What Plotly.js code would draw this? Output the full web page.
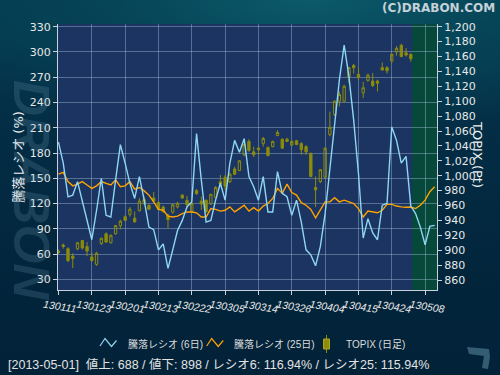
<!DOCTYPE html>
<html><head><meta charset="utf-8">
<script src="https://cdn.plot.ly/plotly-3.0.1.min.js"></script>
<style>
html,body{margin:0;padding:0;}
body{width:500px;height:375px;overflow:hidden;
 background:radial-gradient(ellipse 90% 35% at 62% 0%, #0b5a6a 0%, #064457 45%, rgba(3,44,64,0) 100%),
            linear-gradient(180deg,#04384f 0%, #032c44 40%, #02253b 75%, #022238 100%);}
#chart{width:500px;height:375px;}
</style></head><body><div id="chart"></div>
<script>
// ---- data ----
const tickLabels = ['130111','130123','130201','130213','130222','130305','130314','130326','130404','130415','130424','130508'];
const tickDays   = [0,7,14,21,28,35,42,49,56,63,70,77];

// 騰落レシオ (6日) per trading-day index
const ratio6 = [193,168,128,130,146,124,100,77,112,150,106,104,148,190,168,144,126,152,124,92,
  89,65,72,43,65,88,100,116,122,203,148,98,100,124,144,124,168,195,181,197,
  152,140,124,152,110,110,158,132,128,106,124,98,65,59,46,69,108,160,219,267,
  308,271,219,156,79,102,85,77,118,120,211,195,168,176,117,108,92,71,93,94];
// 騰落レシオ (25日)
const ratio25 = [155,157,146,141,143,146,142,138,141,146,144,142,148,140,141,146,137,139,135,130,
  122,113,112,105,104,105,108,110,110,109,104,104,114,113,111,112,116,110,114,118,
  111,115,111,117,120,126,138,132,143,133,130,121,118,113,103,112,122,122,127,122,
  124,122,120,114,104,111,110,109,112,119,119,117,116,115.5,115.9,114,118,124,134,140];
// TOPIX daily OHLC
const topixOpen  = [899,907,902,892,902,913,905,891,881,909,922,910,922,933,945,948,943,953,963,960,
  970,964,958,947,951,958,974,967,952,980,966,967,962,971,992,998,992,1009,1007,1028,
  1046,1032,1037,1043,1038,1039,1054,1049,1049,1041,1047,1043,1039,1030,984,992,998,1055,1082,1100,
  1100,1132,1148,1136,1111,1128,1127,1127,1145,1145,1154,1166,1175,1165,1163];
const topixHigh  = [901,909,904,896,911,914,911,897,898,917,924,921,934,941,947,958,952,970,972,962,
  978,966,960,949,962,965,975,973,964,982,972,968,976,986,1001,1001,1004,1012,1021,1049,
  1049,1039,1039,1052,1039,1047,1061,1050,1051,1048,1048,1045,1041,1031,999,1009,1038,1086,1101,1113,
  1122,1146,1150,1145,1126,1137,1138,1129,1152,1147,1164,1174,1177,1171,1164];
const topixLow   = [895,902,884,876,900,901,892,885,879,907,910,909,921,928,939,945,937,952,961,954,
  965,954,950,929,949,956,969,956,950,974,954,950,961,970,985,981,990,1001,1006,1026,
  1032,1025,1028,1039,1026,1038,1053,1036,1045,1040,1041,1028,1028,998,958,990,995,1053,1080,1093,
  1098,1124,1137,1128,1104,1126,1119,1113,1141,1137,1151,1161,1159,1160,1153];
const topixClose = [897,905,886,889,910,903,899,886,896,916,911,920,933,939,940,955,938,966,968,955,
  966,955,952,941,961,963,970,961,963,976,962,952,975,984,989,986,1002,1002,1020,1042,
  1034,1028,1035,1050,1027,1046,1058,1037,1046,1046,1042,1035,1032,999,981,1008,1037,1065,1100,1109,
  1120,1145,1145,1132,1118,1135,1121,1124,1142,1141,1163,1171,1160,1162,1157];

const lastDate = '2013-05-01';
const advances = 688, declines = 898, lastRatio6 = 116.94, lastRatio25 = 115.94;
const seriesNames = ['騰落レシオ (6日)', '騰落レシオ (25日)', 'TOPIX (日足)'];

// ---- layout helpers ----
const W = 500, H = 375, M = {l:58, r:63, t:24, b:85};
const pw = W - M.l - M.r, ph = H - M.t - M.b;
const px = x => (x - M.l) / pw;         // pixel -> paper x
const py = y => (H - M.b - y) / ph;     // pixel -> paper y

const idx = a => a.map((_, i) => i);
const FONT = 'DejaVu Sans, Noto Sans CJK JP, sans-serif';
const NARROW = 'Liberation Sans, Noto Sans CJK JP, sans-serif';
const BLUE = '#8fd6f2', ORANGE = '#ffa200', OLIVE = '#8c8c0a';
const GRID = 'rgba(170,192,222,0.42)', AXIS = '#c9d2dc';

const traces = [
  {type:'candlestick', x: idx(topixOpen), open: topixOpen, high: topixHigh, low: topixLow, close: topixClose,
   xaxis:'x', yaxis:'y', name: seriesNames[2], showlegend:false,
   increasing:{line:{color:OLIVE, width:1}, fillcolor:'rgba(0,0,0,0)'},
   decreasing:{line:{color:OLIVE, width:1}, fillcolor:OLIVE},
   whiskerwidth:0, hoverinfo:'skip'},
  {type:'scatter', mode:'lines', x: idx(ratio25), y: ratio25, xaxis:'x', yaxis:'y2', name: seriesNames[1],
   line:{color:ORANGE, width:1.4}, showlegend:false},
  {type:'scatter', mode:'lines', x: idx(ratio6), y: ratio6, xaxis:'x', yaxis:'y2', name: seriesNames[0],
   line:{color:BLUE, width:1.4}, showlegend:false}
];

// legend drawn as icons + text
const zig = (x0, col) => ({type:'path', xref:'paper', yref:'paper', layer:'above',
  path:`M ${px(x0)},${py(346)} L ${px(x0+5)},${py(338.5)} L ${px(x0+11.5)},${py(346.5)} L ${px(x0+16.5)},${py(340.5)}`,
  line:{color:col, width:1.2}});

const shapes = [
  // future region
  {type:'rect', xref:'x', yref:'paper', x0: topixClose.length - 1 + 0.3, x1: 80, y0:0, y1:1,
   fillcolor:'#06493b', line:{width:0}, layer:'below'},
  zig(100, BLUE), zig(206.7, ORANGE),
  {type:'line', xref:'paper', yref:'paper', x0:px(326.5), x1:px(326.5), y0:py(335), y1:py(353), line:{color:OLIVE, width:1}},
  {type:'rect', xref:'paper', yref:'paper', x0:px(323.5), x1:px(329.5), y0:py(339), y1:py(349), fillcolor:OLIVE, line:{color:'#a8a820', width:1}},
  // small logo bottom right
  {type:'path', xref:'paper', yref:'paper', layer:'above',
   path:`M ${px(467)},${py(347)} L ${px(489)},${py(349)} L ${px(490)},${py(357)} L ${px(488)},${py(369)} L ${px(482)},${py(368)} L ${px(484)},${py(356)} L ${px(469)},${py(354)} Z`,
   fillcolor:'rgba(70,112,135,0.75)', line:{width:0}}
];

const annotations = [
  {text:'<b><i>DRABON</i></b>', xref:'paper', yref:'paper', x:px(31), y:py(190), xanchor:'center', yanchor:'middle',
   textangle:90, showarrow:false,
   font:{family:'Liberation Sans, Arial, sans-serif', size:50, color:'rgba(120,165,190,0.2)'}},
  {text:'(C)DRABON.COM', xref:'paper', yref:'paper', x:px(497), y:py(8.5), xanchor:'right', yanchor:'middle', showarrow:false,
   font:{family:FONT, size:12, weight:'bold', color:'#c6d0d8'}},
  {text:'TOPIX (Pt)', xref:'paper', yref:'paper', x:px(487.5), y:py(154), textangle:90, showarrow:false,
   font:{family:FONT, size:13, color:'#f0f0f0'}},
  {text:seriesNames[0], xref:'paper', yref:'paper', x:px(126), y:py(344), xanchor:'left', yanchor:'middle', showarrow:false,
   font:{family:NARROW, size:10, color:'#dcdcdc'}},
  {text:seriesNames[1], xref:'paper', yref:'paper', x:px(231.5), y:py(344), xanchor:'left', yanchor:'middle', showarrow:false,
   font:{family:NARROW, size:10, color:'#dcdcdc'}},
  {text:seriesNames[2], xref:'paper', yref:'paper', x:px(344), y:py(344), xanchor:'left', yanchor:'middle', showarrow:false,
   font:{family:NARROW, size:10, color:'#dcdcdc'}},
  {text:`[${lastDate}]  値上: ${advances} / 値下: ${declines} / レシオ6: ${lastRatio6.toFixed(2)}% / レシオ25: ${lastRatio25.toFixed(2)}%`,
   xref:'paper', yref:'paper', x:px(6), y:py(364.5), xanchor:'left', yanchor:'middle', showarrow:false,
   font:{family:NARROW, size:12.5, color:'#e2e2e2'}}
];

const layout = {
  width:W, height:H, margin:M,
  paper_bgcolor:'rgba(0,0,0,0)', plot_bgcolor:'#1b3461',
  showlegend:false, font:{family:FONT, color:'#e8e8e8'},
  xaxis:{range:[-0.1, 79.5], tickmode:'array', tickvals:tickDays, ticktext:tickLabels, tickangle:9, ticklabelshift:-15,
    showgrid:true, gridcolor:GRID, gridwidth:1, zeroline:false,
    showline:true, linecolor:AXIS, ticks:'outside', ticklen:4, tickcolor:AXIS,
    tickfont:{family:NARROW, size:10.5, style:'italic', color:'#e8e8e8'}, rangeslider:{visible:false}, fixedrange:true},
  yaxis:{side:'right', range:[846.6, 1203.6], tick0:860, dtick:20, tickformat:',d',
    showgrid:false, zeroline:false, showline:true, linecolor:AXIS, ticks:'outside', ticklen:4, tickcolor:AXIS,
    tickfont:{family:FONT, size:11, color:'#e8e8e8'}, fixedrange:true},
  yaxis2:{overlaying:'y', side:'left', range:[17.3, 333.2], tick0:0, dtick:30,
    showgrid:true, gridcolor:GRID, zeroline:false, showline:true, linecolor:AXIS, ticks:'outside', ticklen:4, tickcolor:AXIS,
    tickfont:{family:FONT, size:11, color:'#e8e8e8'},
    title:{text:'騰落レシオ (%)', font:{family:FONT, size:13, color:'#f0f0f0'}, standoff:3}, fixedrange:true},
  shapes, annotations
};

Plotly.newPlot('chart', traces, layout, {staticPlot:true, displayModeBar:false});
</script></body></html>
